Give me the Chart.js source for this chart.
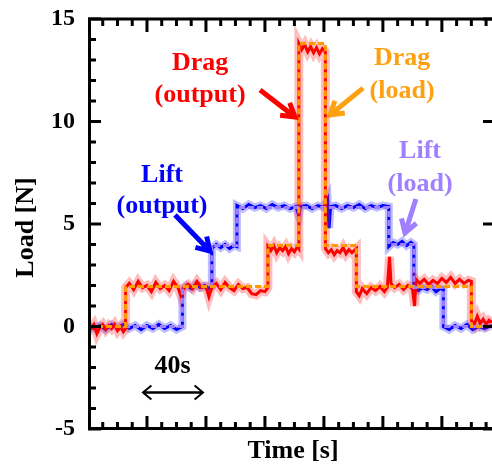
<!DOCTYPE html>
<html>
<head>
<meta charset="utf-8">
<script src="https://cdn.jsdelivr.net/npm/chart.js@4.4.1/dist/chart.umd.min.js"></script>
<style>
  body { margin: 0; background: #fff; }
  canvas { display: block; }
</style>
</head>
<body>
<canvas id="myChart" width="492" height="470"></canvas>
<script>
const ctx = document.getElementById('myChart');
const serif = '"Liberation Serif", "Times New Roman", serif';

// axis range (seconds / newtons)
const timeRange = [0, 274];
const loadRange = [-5, 15];
const loadStep = 5;

// applied loads (step levels, value holds until next time)
const dragLoadT = [0, 25.5, 122, 143, 161, 182, 260, 274];
const dragLoadV = [0, 1.95, 3.95, 13.8, 3.95, 1.95, 0, 0];
const liftLoadT = [0, 64, 84, 101, 204, 221, 241, 274];
const liftLoadV = [0, 1.95, 3.95, 5.8, 4.0, 1.9, 0, 0];

const dragOutT = [0, 2, 4, 6, 8, 10, 12, 14, 16, 18, 20, 22, 24, 25.5,
  25.5, 28, 31, 34, 37, 40, 43, 46, 49, 52, 55, 58, 61, 63, 65, 68, 71, 74, 77, 80, 82, 84, 87, 90, 93, 96, 99, 102, 105, 108, 111, 114, 117, 120, 122,
  122, 124, 126, 128, 130, 132, 134, 136, 138, 140, 142, 143,
  143, 145, 147, 149, 151, 153, 155, 157, 159, 161,
  161, 163, 165, 167, 169, 171, 173, 175, 177, 179, 182,
  182, 184, 186, 189, 192, 195, 198, 201, 203, 204.5, 205.5, 208, 211, 214, 217, 220, 221.5, 222.5, 225, 228, 231, 234, 237, 240, 243, 246, 249, 252, 255, 258, 260,
  260, 262, 264, 266, 268, 270, 272, 274];
const dragOutV = [0.05, -0.1, 0.1, -0.35, -0.05, 0.1, -0.15, 0.05, -0.1, 0.1, -0.2, 0, -0.25, -0.1,
  1.9, 2.1, 1.8, 2.2, 1.9, 2.0, 1.7, 2.15, 1.85, 2.0, 1.75, 2.2, 1.9, 1.5, 1.9, 2.05, 1.85, 2.2, 1.9, 1.95, 1.45, 1.9, 2.1, 1.8, 2.15, 1.9, 1.75, 2.05, 1.85, 1.9, 1.6, 1.55, 1.75, 1.7, 1.9,
  3.9, 3.7, 3.95, 3.6, 3.85, 3.7, 3.9, 3.55, 3.8, 3.65, 3.9, 3.8,
  13.8, 13.5, 13.75, 13.4, 13.65, 13.35, 13.6, 13.3, 13.55, 13.4,
  3.8, 3.6, 3.75, 3.5, 3.7, 3.6, 3.85, 3.55, 3.75, 3.6, 3.8,
  1.7, 1.5, 1.85, 1.6, 1.9, 1.75, 1.95, 1.7, 1.9, 3.4, 2.1, 1.9, 2.05, 1.8, 2.0, 1.85, 1.0, 2.3, 2.1, 2.3, 2.05, 2.25, 2.1, 2.35, 2.15, 2.4, 2.1, 2.3, 2.1, 2.25, 2.2,
  0.3, 0.1, 0.5, 0.15, 0.35, 0.1, 0.3, 0.2];

const liftOutT = [0, 4, 8, 12, 16, 20, 24, 28, 32, 36, 40, 44, 48, 52, 56, 60, 64,
  64, 67, 70, 73, 76, 79, 82, 84,
  84, 87, 90, 93, 96, 99, 101,
  101, 105, 109, 113, 117, 121, 125, 129, 133, 137, 141, 143, 144, 148, 152, 156, 160, 162.5, 163.5, 164.5, 168, 172, 176, 180, 184, 188, 192, 196, 200, 204,
  204, 207, 210, 213, 216, 219, 221,
  221, 224, 227, 230, 233, 236, 239, 241,
  241, 245, 249, 253, 257, 261, 265, 269, 274];
const liftOutV = [0.1, -0.1, 0.05, -0.15, 0.1, -0.05, 0.1, -0.1, 0.05, -0.15, 0.05, -0.1, 0.1, -0.1, 0.05, -0.15, 0,
  1.8, 2.0, 1.85, 2.05, 1.9, 2.0, 1.85, 1.95,
  3.8, 4.0, 3.85, 4.0, 3.8, 3.95, 3.9,
  5.9, 5.75, 5.95, 5.8, 5.9, 5.75, 5.95, 5.8, 5.9, 5.75, 5.85, 5.4, 5.85, 5.9, 5.75, 5.9, 5.8, 6.2, 4.8, 5.85, 5.9, 5.75, 5.9, 5.8, 5.95, 5.75, 5.9, 5.8, 5.9, 5.85,
  3.9, 4.1, 4.0, 4.15, 3.95, 4.1, 4.0,
  1.9, 1.75, 1.9, 1.8, 1.95, 1.7, 1.85, 1.8,
  0, -0.15, 0.05, -0.1, 0.1, -0.15, 0, -0.1, 0.05];

// annotation text, placed in data units
const notes = [
  { lines: ['Drag', '(output)'], t: 76, v: [12.5, 10.95], color: '#ff0000' },
  { lines: ['Drag', '(load)'], t: 213, v: [12.76, 11.15], color: '#ffa010' },
  { lines: ['Lift', '(output)'], t: 50.2, v: [7.05, 5.54], color: '#0000ff' },
  { lines: ['Lift', '(load)'], t: 225.2, v: [8.22, 6.61], color: '#a080ff' },
  { lines: ['40s'], t: 57.3, v: [-2.28], color: '#000' }
];
const arrows = [
  { from: [116.7, 11.54], to: [140.4, 10.22], color: '#ff0000' },
  { from: [186.5, 11.63], to: [164.1, 10.32], color: '#ffa010' },
  { from: [59, 5.44], to: [82.7, 3.68], color: '#0000ff' },
  { from: [222.4, 6.22], to: [215, 4.56], color: '#a080ff' }
];
const spanArrow = { t: [37.3, 78], v: -3.22 };

const pts = (t, v) => t.map((x, i) => ({ x: x, y: v[i] }));

function drawArrow(c, x1, y1, x2, y2, w, head, spread) {
  const a = Math.atan2(y2 - y1, x2 - x1);
  c.lineWidth = w;
  c.beginPath();
  c.moveTo(x1, y1);
  c.lineTo(x2, y2);
  c.moveTo(x2 - head * Math.cos(a - spread), y2 - head * Math.sin(a - spread));
  c.lineTo(x2, y2);
  c.lineTo(x2 - head * Math.cos(a + spread), y2 - head * Math.sin(a + spread));
  c.stroke();
}

const framePlugin = {
  id: 'frame',
  afterDraw(chart) {
    const c = chart.ctx;
    const a = chart.chartArea;
    const x = chart.scales.x, y = chart.scales.y;
    c.save();
    c.strokeStyle = '#000';
    c.lineWidth = 3;
    c.lineCap = 'butt';
    c.beginPath();
    c.moveTo(a.left + 1.5, a.top);
    c.lineTo(a.left + 1.5, a.bottom);
    c.moveTo(a.left, a.bottom - 0.5);
    c.lineTo(a.right + 3, a.bottom - 0.5);
    c.moveTo(a.left, a.top);
    c.lineTo(a.right + 3, a.top);
    c.stroke();

    // inward ticks
    c.beginPath();
    for (let v = loadRange[0]; v <= loadRange[1]; v++) {
      const py = y.getPixelForValue(v);
      const major = v % 5 === 0;
      c.moveTo(a.left, py);
      c.lineTo(a.left + (major ? 13 : 8), py);
      if (major) {
        c.moveTo(a.right + 1, py);
        c.lineTo(a.right - 9, py);
      }
    }
    for (let t = 10; t <= timeRange[1]; t += 10) {
      const px = x.getPixelForValue(t);
      const len = t % 40 === 0 ? 13 : 7;
      c.moveTo(px, a.bottom);
      c.lineTo(px, a.bottom - len);
      c.moveTo(px, a.top);
      c.lineTo(px, a.top + len);
    }
    c.stroke();

    // axis titles
    c.fillStyle = '#000';
    c.font = 'bold 26px ' + serif;
    c.textAlign = 'center';
    c.textBaseline = 'alphabetic';
    c.fillText('Time [s]', 293, 458);
    c.save();
    c.translate(33, 227.5);
    c.rotate(-Math.PI / 2);
    c.fillText('Load [N]', 0, 0);
    c.restore();

    // labels
    notes.forEach(n => {
      c.fillStyle = n.color;
      n.lines.forEach((s, i) => {
        c.fillText(s, x.getPixelForValue(n.t), y.getPixelForValue(n.v[i]));
      });
    });

    // pointer arrows
    c.lineJoin = 'miter';
    arrows.forEach(r => {
      c.strokeStyle = r.color;
      drawArrow(c, x.getPixelForValue(r.from[0]), y.getPixelForValue(r.from[1]),
        x.getPixelForValue(r.to[0]), y.getPixelForValue(r.to[1]), 5, 15, 0.55);
    });

    // 40 s span arrow
    c.strokeStyle = '#000';
    const sy = y.getPixelForValue(spanArrow.v);
    const sx1 = x.getPixelForValue(spanArrow.t[0]);
    const sx2 = x.getPixelForValue(spanArrow.t[1]);
    drawArrow(c, sx2, sy, sx1, sy, 2, 11, 0.7);
    drawArrow(c, sx1, sy, sx2, sy, 2, 11, 0.7);
    c.restore();
  }
};

// chart.js paints the first dataset last, so the dashed loads come first
const myChart = new Chart(ctx, {
  type: 'line',
  data: {
    datasets: [
      { data: pts(dragLoadT, dragLoadV), borderColor: '#ff9900', borderWidth: 3, borderDash: [6, 3], stepped: 'before' },
      { data: pts(liftLoadT, liftLoadV), borderColor: '#a080ff', borderWidth: 3, borderDash: [6, 3], stepped: 'before' },
      { data: pts(dragOutT, dragOutV), borderColor: '#ff0000', borderWidth: 3 },
      { data: pts(dragOutT, dragOutV), borderColor: 'rgba(255,40,40,0.3)', borderWidth: 9 },
      { data: pts(liftOutT, liftOutV), borderColor: '#0000ff', borderWidth: 3 },
      { data: pts(liftOutT, liftOutV), borderColor: 'rgba(40,40,255,0.3)', borderWidth: 8 }
    ]
  },
  options: {
    responsive: false,
    animation: false,
    elements: { point: { radius: 0 }, line: { tension: 0, fill: false } },
    layout: { padding: { top: 19, right: 0, left: 0, bottom: 0 } },
    plugins: { legend: { display: false }, tooltip: { enabled: false } },
    scales: {
      x: {
        type: 'linear',
        min: timeRange[0],
        max: timeRange[1],
        grid: { display: false, drawTicks: false },
        border: { display: false },
        ticks: { display: false },
        afterFit: s => { s.height = 41; s.paddingLeft = 0; s.paddingRight = 0; }
      },
      y: {
        min: loadRange[0],
        max: loadRange[1],
        grid: { display: false, drawTicks: false },
        border: { display: false },
        ticks: {
          stepSize: loadStep,
          padding: 13,
          color: '#000',
          font: { family: serif, size: 24, weight: 'bold' }
        },
        afterFit: s => { s.width = 88; s.paddingTop = 0; s.paddingBottom = 0; }
      }
    }
  },
  plugins: [framePlugin]
});
</script>
</body>
</html>
